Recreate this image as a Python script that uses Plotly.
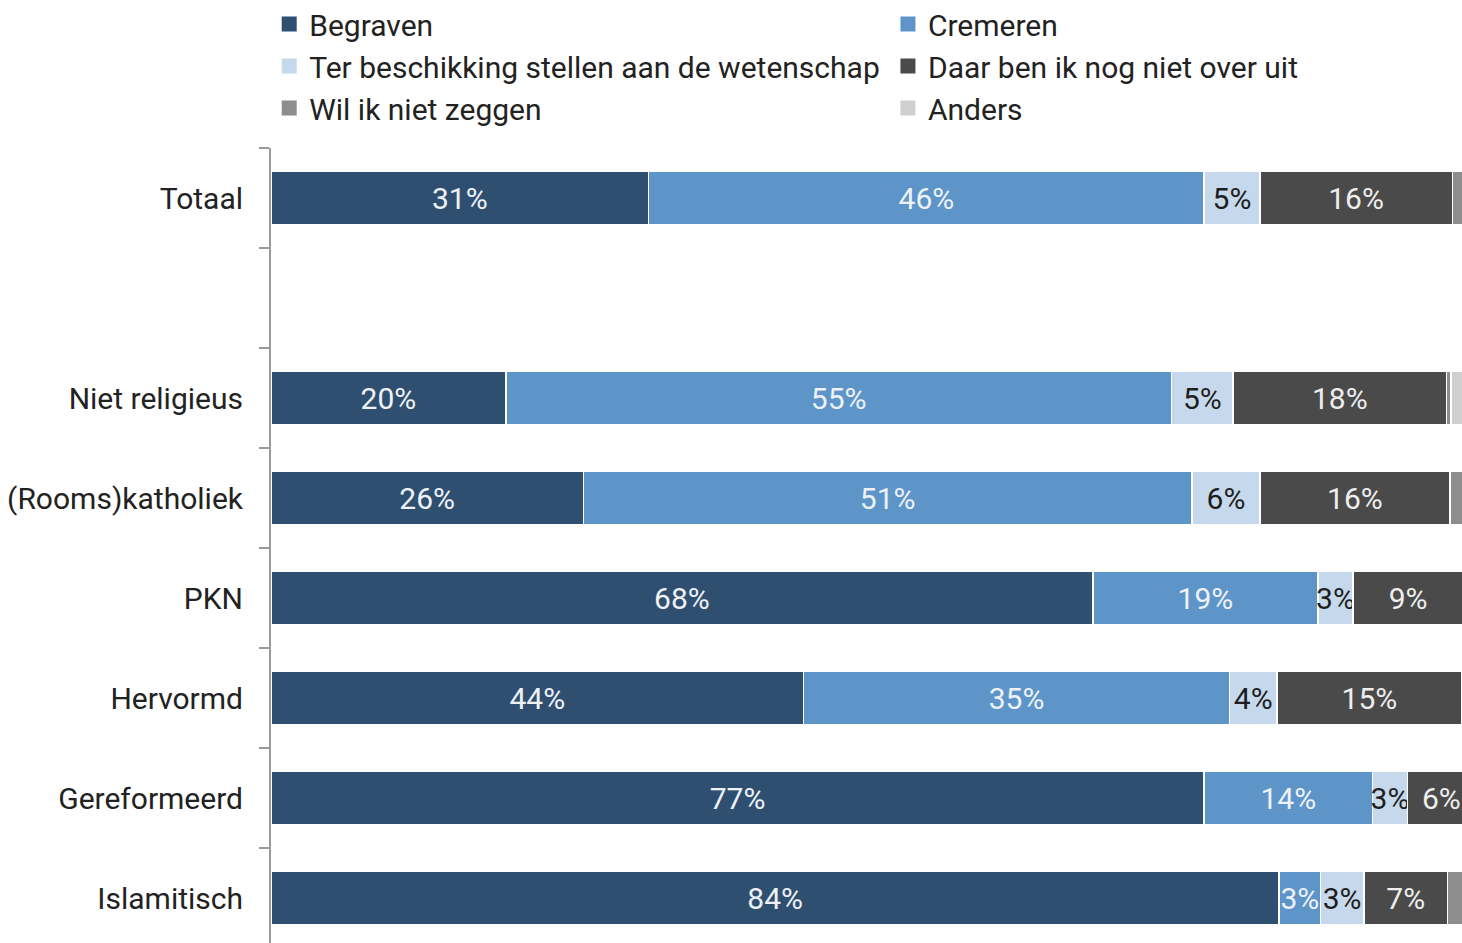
import plotly.graph_objects as go

categories = ["Totaal", " ", "Niet religieus", "(Rooms)katholiek", "PKN", "Hervormd", "Gereformeerd", "Islamitisch"]
series_names = ["Begraven", "Cremeren", "Ter beschikking stellen aan de wetenschap",
                "Daar ben ik nog niet over uit", "Wil ik niet zeggen", "Anders"]
begraven = [31.2, None, 19.4, 25.8, 67.9, 44.0, 77.1, 83.3]
cremeren = [45.9, None, 55.0, 50.3, 18.6, 35.2, 13.9, 3.4]
wetenschap = [4.6, None, 5.1, 5.6, 2.9, 3.9, 2.9, 3.6]
niet_uit = [15.9, None, 17.6, 15.7, 9.1, 15.3, 5.6, 6.9]
niet_zeggen = [1.2, None, 0.4, 1.5, 0.8, 0.8, 0.3, 1.5]
anders = [1.2, None, 2.5, 1.1, 0.7, 0.8, 0.2, 1.3]
labels = [
    ["31%", "", "20%", "26%", "68%", "44%", "77%", "84%"],
    ["46%", "", "55%", "51%", "19%", "35%", "14%", "3%"],
    ["5%", "", "5%", "6%", "3%", "4%", "3%", "3%"],
    ["16%", "", "18%", "16%", "9%", "15%", "6%", "7%"],
    ["", "", "", "", "", "", "", ""],
    ["", "", "", "", "", "", "", ""],
]
values = [begraven, cremeren, wetenschap, niet_uit, niet_zeggen, anders]
colors = ["#2f4f71", "#5d95c9", "#c6d9ec", "#4a4a4a", "#8d8d8d", "#cfcfcf"]
text_colors = ["#eef2f7", "#eef2f7", "#1e1e1e", "#eeeeee", "#ffffff", "#ffffff"]
legend_cols = ["legend", "legend2", "legend", "legend2", "legend", "legend2"]

FONT = "Roboto"
FS = 30

fig = go.Figure()
for i, (name, vals, col, tcol, lab) in enumerate(
        zip(series_names, values, colors, text_colors, labels)):
    fig.add_trace(go.Bar(
        y=categories, x=vals, name=name, orientation="h",
        marker=dict(color=col, line=dict(color="white", width=1.5)),
        text=lab, textposition="inside", insidetextanchor="middle", textangle=0,
        textfont=dict(color=tcol, size=FS, family=FONT),
        cliponaxis=True, hoverinfo="skip", showlegend=False,
        legendgroup="g%d" % i,
    ))

# legend-only entries (square swatches like the original)
for i, (name, col, lg) in enumerate(zip(series_names, colors, legend_cols)):
    fig.add_trace(go.Scatter(
        x=[None], y=[None], mode="markers", name=name,
        marker=dict(symbol="square", size=15, color=col),
        legend=lg, legendgroup="g%d" % i, showlegend=True, hoverinfo="skip",
    ))

W, H = 1462, 943
PLOT_TOP = 148
PLOT_H = H - PLOT_TOP
leg_y = 1 + (PLOT_TOP + 2) / PLOT_H

legend_common = dict(
    orientation="v", y=leg_y, yanchor="top", xanchor="left",
    font=dict(family=FONT, size=FS, color="#222222"),
    traceorder="normal", itemclick=False, tracegroupgap=3,
    bgcolor="rgba(0,0,0,0)",
)

fig.update_layout(
    barmode="stack",
    bargap=0.47,
    width=W, height=H,
    margin=dict(l=271, r=0, t=PLOT_TOP, b=0, autoexpand=False),
    paper_bgcolor="white", plot_bgcolor="white",
    font=dict(family=FONT, size=FS, color="#222222"),
    uniformtext=dict(minsize=FS, mode="show"),
    showlegend=True,
    legend=dict(x=-0.0015, **legend_common),
    legend2=dict(x=0.518, **legend_common),
    xaxis=dict(range=[0, 98.4], showgrid=False, zeroline=False, showticklabels=False,
               showline=False, ticks=""),
    yaxis=dict(type="category", categoryorder="array", categoryarray=categories,
               range=[7.45, -0.5], showline=True, linecolor="#9a9a9a", linewidth=2,
               ticks="outside", tickson="boundaries", ticklen=10, tickcolor="#9a9a9a",
               tickwidth=2, showgrid=False, zeroline=False, ticklabelstandoff=20,
               tickfont=dict(family=FONT, size=FS, color="#222222")),
)

fig.write_html(
    "out.html",
    config={"responsive": False, "displayModeBar": False},
    post_script="document.body.style.margin='0';document.body.style.overflow='hidden';",
)
